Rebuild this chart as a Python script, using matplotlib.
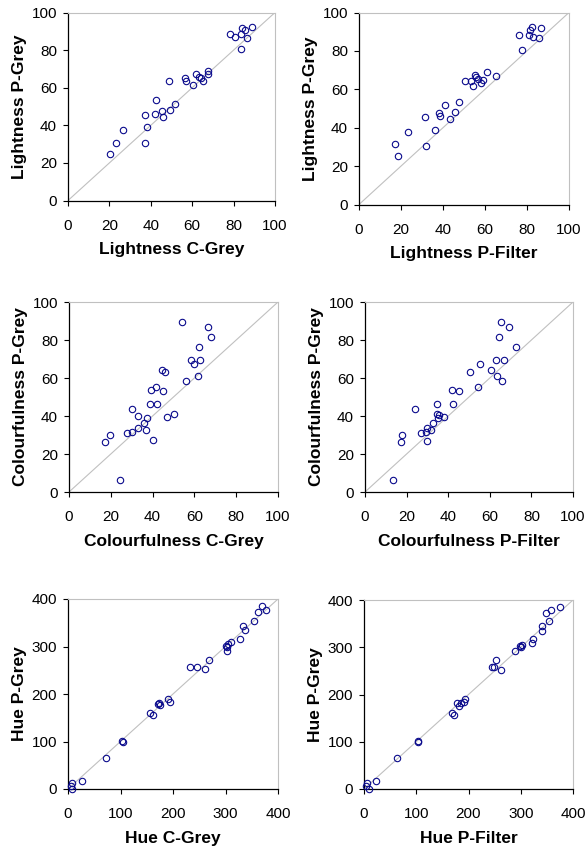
import matplotlib
matplotlib.use("Agg")
import matplotlib.pyplot as plt

plt.rcParams['font.family'] = ['Liberation Sans', 'DejaVu Sans']

# Lightness: C-Grey vs P-Grey
light_cgrey = [20.2, 23.4, 26.6, 37.3, 37.3, 38.2, 42.0, 42.4, 45.3, 45.8,
               49.4, 51.8, 48.7, 56.5, 56.8, 60.2, 61.9, 63.4, 64.2, 65.3,
               67.4, 67.4, 78.2, 80.5, 83.7, 84.0, 85.4, 86.6, 88.9, 83.7]
light_pgrey_a = [25.0, 30.7, 37.3, 30.7, 45.3, 39.1, 45.8, 53.5, 47.4, 44.2,
                 48.3, 51.5, 63.8, 65.4, 63.6, 61.6, 67.1, 65.5, 65.4, 63.6,
                 68.9, 67.1, 88.8, 87.2, 88.8, 91.8, 90.8, 86.7, 92.4, 80.6]

# Lightness: P-Filter vs P-Grey
light_pfilter = [17.0, 18.4, 23.5, 31.3, 31.7, 36.3, 37.9, 38.4, 40.8, 43.2,
                 45.9, 47.6, 50.3, 53.2, 54.1, 55.2, 55.6, 56.8, 58.1, 59.2,
                 60.8, 65.1, 76.3, 77.8, 81.0, 81.6, 82.2, 82.9, 85.6, 86.5]
light_pgrey_b = [31.3, 25.2, 37.7, 45.5, 30.6, 38.9, 47.6, 46.0, 51.6, 44.4,
                 48.4, 53.5, 64.1, 64.1, 61.5, 67.2, 66.3, 65.5, 63.4, 65.1,
                 68.9, 67.0, 88.5, 80.6, 88.5, 91.1, 92.7, 87.5, 86.6, 92.0]

# Colourfulness: C-Grey vs P-Grey
colour_cgrey = [54.0, 66.3, 67.9, 62.3, 58.5, 62.8, 59.9, 44.6, 46.0, 55.8,
                61.7, 41.4, 39.0, 45.2, 38.7, 42.3, 30.2, 33.1, 37.2, 46.8,
                50.0, 35.9, 33.1, 36.7, 30.0, 27.6, 19.6, 17.4, 40.1, 24.6]
colour_pgrey_a = [89.3, 86.6, 81.5, 76.4, 69.4, 69.4, 67.3, 64.3, 63.0, 58.6,
                  61.1, 55.5, 53.9, 53.3, 46.3, 46.3, 43.8, 40.1, 39.1, 39.6,
                  41.0, 36.1, 33.8, 32.6, 31.5, 31.0, 30.1, 26.2, 27.3, 6.5]

# Colourfulness: P-Filter vs P-Grey
colour_pfilter = [65.2, 69.3, 64.4, 72.6, 62.9, 66.6, 55.5, 60.7, 50.7, 63.4,
                  66.1, 54.1, 41.6, 45.3, 24.2, 34.5, 42.4, 34.8, 35.8, 37.9,
                  35.2, 32.7, 29.8, 31.9, 29.5, 26.8, 17.7, 17.2, 30.0, 13.5]
colour_pgrey_b = [89.3, 86.6, 81.7, 76.4, 69.4, 69.4, 67.3, 64.3, 63.2, 61.1,
                  58.6, 55.5, 53.9, 53.3, 43.8, 46.3, 46.3, 41.2, 40.3, 39.6,
                  38.9, 36.1, 33.8, 32.6, 31.5, 31.0, 30.1, 26.2, 27.1, 6.5]

# Hue: C-Grey vs P-Grey
hue_cgrey = [369.4, 377.1, 361.8, 354.1, 332.5, 336.3, 327.4, 310.8, 300.0, 304.5,
             303.2, 303.8, 268.8, 260.5, 245.9, 233.1, 189.8, 194.3, 172.6, 175.2,
             171.3, 156.7, 161.1, 102.5, 104.5, 72.6, 26.1, 8.3, 5.1, 8.3]
hue_pgrey_a = [384.5, 377.5, 371.9, 353.6, 343.8, 333.9, 316.3, 308.6, 301.6, 304.4,
               299.5, 291.0, 272.1, 251.7, 257.3, 257.3, 190.5, 183.5, 180.7, 176.4,
               179.3, 160.3, 155.4, 101.2, 99.8, 66.1, 16.9, 12.0, 5.6, 0.0]

# Hue: P-Filter vs P-Grey
hue_pfilter = [375.1, 358.5, 347.7, 353.4, 341.3, 340.0, 323.4, 321.5, 303.0, 297.9,
               300.5, 289.6, 252.6, 262.8, 245.0, 248.8, 193.9, 191.4, 178.0, 181.2,
               186.3, 167.8, 172.2, 102.7, 103.3, 62.5, 22.3, 6.4, 4.5, 8.9]
hue_pgrey_b = [385.2, 378.8, 372.5, 354.9, 345.0, 335.1, 318.2, 309.7, 305.5, 302.6,
               300.5, 292.8, 273.0, 252.6, 258.2, 258.2, 191.2, 184.1, 181.3, 176.4,
               181.3, 160.8, 155.9, 102.3, 100.2, 66.3, 16.9, 12.0, 5.6, 0.0]

panels = [
    (light_cgrey, light_pgrey_a, 'Lightness C-Grey', 'Lightness P-Grey', 100, 20, (68, 275, 12.5, 200.5)),
    (light_pfilter, light_pgrey_b, 'Lightness P-Filter', 'Lightness P-Grey', 100, 20, (359, 569, 12.5, 204.5)),
    (colour_cgrey, colour_pgrey_a, 'Colourfulness C-Grey', 'Colourfulness P-Grey', 100, 20, (69, 278, 302, 492)),
    (colour_pfilter, colour_pgrey_b, 'Colourfulness P-Filter', 'Colourfulness P-Grey', 100, 20, (365, 573, 302, 492)),
    (hue_cgrey, hue_pgrey_a, 'Hue C-Grey', 'Hue P-Grey', 400, 100, (68, 278, 599, 789)),
    (hue_pfilter, hue_pgrey_b, 'Hue P-Filter', 'Hue P-Grey', 400, 100, (364, 573, 600, 789)),
]

W, H = 588, 850
fig = plt.figure(figsize=(W / 100, H / 100), dpi=100)

for xs, ys, xlab, ylab, top, step, (x0, x1, y0, y1) in panels:
    ax = fig.add_axes([x0 / W, 1 - y1 / H, (x1 - x0) / W, (y1 - y0) / H])
    ax.plot([0, top], [0, top], color='#c0c0c0', lw=0.8, zorder=1)
    ax.plot(xs, ys, 'o', mfc='none', mec='#0a0a8c', ms=4.6, mew=0.8, zorder=3, clip_on=False)
    ax.set_xlim(0, top)
    ax.set_ylim(0, top)
    ticks = list(range(0, top + 1, step))
    ax.set_xticks(ticks)
    ax.set_yticks(ticks)
    ax.tick_params(direction='out', length=3.5, width=0.8, labelsize=11, colors='black')
    ax.tick_params(axis='x', pad=9.5)
    ax.tick_params(axis='y', pad=4.5)
    for s in ['left', 'bottom']:
        ax.spines[s].set_color('black')
        ax.spines[s].set_linewidth(0.9)
    for s in ['top', 'right']:
        ax.spines[s].set_color('#c0c0c0')
        ax.spines[s].set_linewidth(0.8)
    ax.set_xlabel(xlab, fontsize=12.5, fontweight='bold', labelpad=7)
    ax.set_ylabel(ylab, fontsize=12.5, fontweight='bold', labelpad=3)

fig.savefig('out.png', dpi=100)
